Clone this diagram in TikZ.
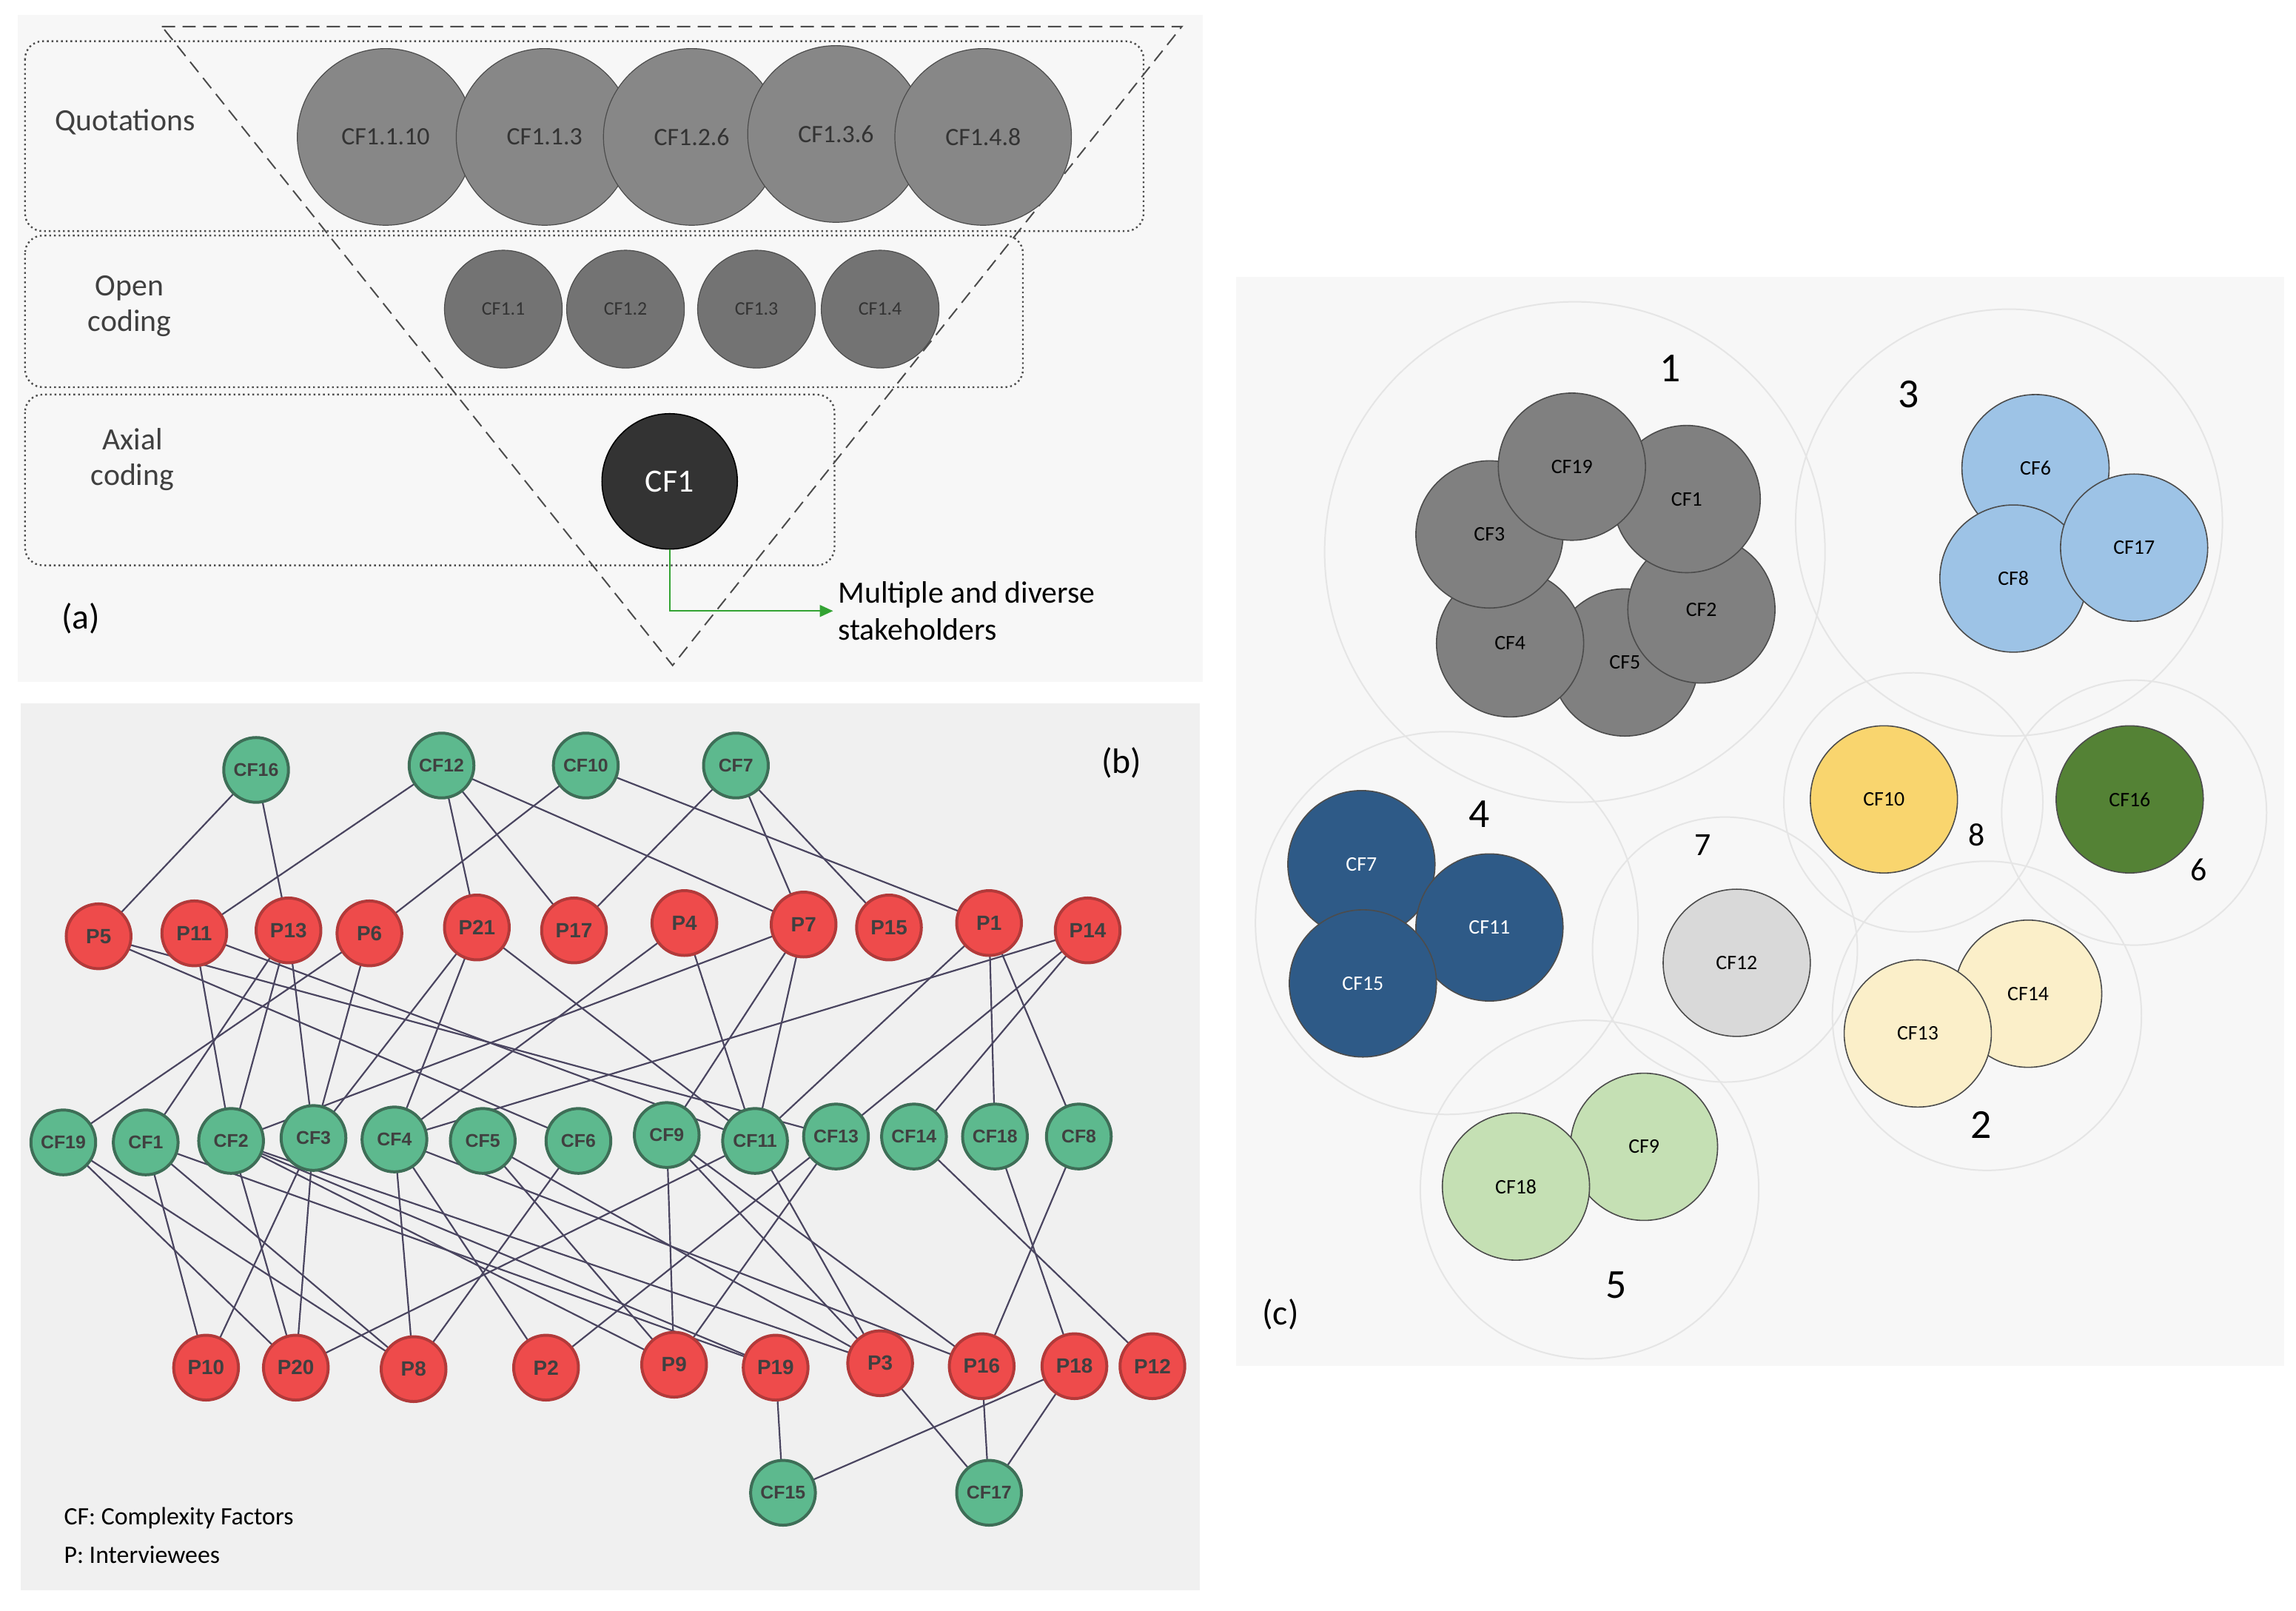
\documentclass[tikz,border=0pt]{standalone}
\usepackage{fontspec}
\setmainfont{Carlito}
\newfontfamily\arialf{Liberation Sans}
\usetikzlibrary{arrows.meta}
\definecolor{gnode}{HTML}{5DB98E}
\definecolor{gedge}{HTML}{3E6E57}
\definecolor{rnode}{HTML}{EE4B4B}
\definecolor{redge}{HTML}{B23A3A}
\definecolor{ln}{HTML}{4A4560}
\begin{document}
\begin{tikzpicture}[x=1pt,y=-1pt,
 bn/.style={circle,minimum size=44pt,inner sep=0pt,line width=2pt,font=\arialf\bfseries\fontsize{14}{14}\selectfont,text=black!75},
 g/.style={bn,fill=gnode,draw=gedge},
 r/.style={bn,fill=rnode,draw=redge},
 e/.style={ln,line width=1.1pt},
 qa/.style={circle,draw=black!70,line width=0.6pt,fill=black!47,minimum size=120pt,inner sep=0pt,font=\fontsize{17}{17}\selectfont,text=black!80},
 oa/.style={circle,draw=black!70,line width=0.6pt,fill=black!55,minimum size=80pt,inner sep=0pt,font=\fontsize{13}{13}\selectfont,text=black!80},
 row/.style={draw=black!70,dash pattern=on 1.2pt off 2pt,line width=1.2pt,rounded corners=12pt},
 rl/.style={font=\fontsize{21}{24}\selectfont,text=black!75,align=center},
 big/.style={draw=black!10,line width=1pt},
 cc/.style={circle,draw=black!70,line width=0.8pt,minimum size=100pt,inner sep=0pt,font=\fontsize{14}{14}\selectfont},
 num/.style={font=\fontsize{28}{28}\selectfont}]
\useasboundingbox (0,0) rectangle (1560,1094);
\fill[white] (0,0) rectangle (1560,1094);
% ---------- panel a
\fill[black!3] (12,10) rectangle (817,463);
\draw[row] (17,28) rectangle (777,157);
\draw[row] (17,160) rectangle (695,263);
\draw[row] (17,268) rectangle (567,384);
\draw[dash pattern=on 9pt off 5pt,black!70,line width=1pt] (110,18) -- (803,18) -- (457,452) -- cycle;
\node[rl] (tq) at (85,83) {Quotations};
\node[rl] (to) at (88,208) {Open\\coding};
\node[rl] (tx) at (90,312) {Axial\\coding};
\node[qa] (q1) at (262,93) {CF1.1.10};
\node[qa] (q2) at (370,93) {CF1.1.3};
\node[qa] (q3) at (470,93) {CF1.2.6};
\node[qa] (q4) at (568,91) {CF1.3.6};
\node[qa] (q5) at (668,93) {CF1.4.8};
\node[oa] (o1) at (342,210) {CF1.1};
\node[oa] (o2) at (425,210) {CF1.2};
\node[oa] (o3) at (514,210) {CF1.3};
\node[oa] (o4) at (598,210) {CF1.4};
\node[circle,draw=black,line width=0.8pt,fill=black!80,minimum size=92pt,inner sep=0pt,text=white,font=\fontsize{22}{22}\selectfont] (cf1a) at (455,327) {CF1};
\node[font=\fontsize{21}{25}\selectfont,align=left,anchor=west] (ms) at (566,415) {Multiple and diverse\\stakeholders};
\draw[-{Triangle[length=9pt,width=8pt]},green!55!black!80,line width=1pt] (cf1a.south) |- (ms.west);
\node[font=\fontsize{24}{24}\selectfont] (la) at (55,420) {(a)};
% ---------- panel b
\fill[black!6] (14,478) rectangle (815,1080);
\foreach \n/\x/\y in {CF16/174/523,CF12/300/520,CF10/398/520,CF7/500/520,
 CF19/43/776,CF1/99/776,CF2/157/775,CF3/213/773,CF4/268/774,CF5/328/775,CF6/393/775,CF9/453/771,CF11/513/775,CF13/568/772,CF14/621/772,CF18/676/772,CF8/733/772,CF15/532/1014,CF17/672/1014}
 \coordinate (b\n) at (\x,\y);
\foreach \n/\x/\y in {P5/67/636,P11/132/634,P13/196/632,P6/251/634,P21/324/630,P17/390/632,P4/465/627,P7/546/628,P15/604/630,P1/672/627,P14/739/632,
 P10/140/929,P20/201/929,P8/281/930,P2/371/929,P9/458/927,P19/527/929,P3/598/926,P16/667/928,P18/730/928,P12/783/928}
 \coordinate (b\n) at (\x,\y);
\foreach \a/\b in {CF16/P5,CF16/P13,CF12/P11,CF12/P21,CF12/P17,CF12/P7,CF10/P6,CF10/P1,CF7/P17,CF7/P7,CF7/P15,
 P5/CF6,P5/CF13,P11/CF2,P11/CF11,P13/CF1,P13/CF2,P13/CF3,P6/CF19,P6/CF3,P21/CF3,P21/CF4,P21/CF11,P4/CF4,P4/CF11,
 P7/CF2,P7/CF9,P7/CF11,P1/CF11,P1/CF18,P1/CF8,P14/CF4,P14/CF13,P14/CF14,
 CF19/P20,CF19/P8,CF1/P10,CF1/P19,CF1/P8,CF2/P20,CF2/P3,CF2/P19,CF2/P9,CF3/P20,CF3/P10,CF4/P8,CF4/P2,CF4/P16,
 CF5/P9,CF5/P3,CF6/P8,CF9/P9,CF9/P3,CF9/P16,CF11/P20,CF11/P3,CF13/P9,CF13/P2,CF14/P12,CF18/P18,CF8/P16,
 P19/CF15,P18/CF15,P3/CF17,P16/CF17,P18/CF17}
 \draw[e] (b\a) -- (b\b);
\foreach \n in {CF16,CF12,CF10,CF7,CF19,CF1,CF2,CF3,CF4,CF5,CF6,CF9,CF11,CF13,CF14,CF18,CF8,CF15,CF17}
 \node[g,font=\arialf\bfseries\fontsize{12.5}{12.5}\selectfont] (n\n) at (b\n) {\n};
\foreach \n in {P5,P11,P13,P6,P21,P17,P4,P7,P15,P1,P14,P10,P20,P8,P2,P9,P19,P3,P16,P18,P12}
 \node[r] (n\n) at (b\n) {\n};
\node[font=\fontsize{24}{24}\selectfont] (lb) at (762,518) {(b)};
\node[anchor=west,font=\fontsize{17}{17}\selectfont] (lg1) at (40,1031) {CF: Complexity Factors};
\node[anchor=west,font=\fontsize{17}{17}\selectfont] (lg2) at (40,1056) {P: Interviewees};
% ---------- panel c
\fill[black!3] (840,188) rectangle (1552,928);
\draw[big] (1070,375) circle (170);
\draw[big] (1365,355) circle (145);
\draw[big] (983,627) circle (130);
\draw[big] (1172,645) circle (90);
\draw[big] (1300,545) circle (88);
\draw[big] (1450,552) circle (90);
\draw[big] (1350,690) circle (105);
\draw[big] (1080,808) circle (115);
\foreach \n/\x/\y in {CF5/1104/450,CF4/1026/437,CF2/1156/414,CF3/1012/363,CF1/1146/339,CF19/1068/317}
 \node[cc,fill=black!50] (c\n) at (\x,\y) {\n};
\definecolor{lb}{HTML}{9DC3E6}
\node[cc,fill=lb] (cCF6) at (1383,318) {CF6};
\node[cc,fill=lb] (cCF8) at (1368,393) {CF8};
\node[cc,fill=lb] (cCF17) at (1450,372) {CF17};
\node[cc,fill={rgb,255:red,249;green,213;blue,110}] (cCF10) at (1280,543) {CF10};
\node[cc,fill={rgb,255:red,84;green,130;blue,53}] (cCF16) at (1447,543) {CF16};
\definecolor{db}{HTML}{2E5A87}
\node[cc,fill=db,text=white] (cCF7) at (925,587) {CF7};
\node[cc,fill=db,text=white] (cCF11) at (1012,630) {CF11};
\node[cc,fill=db,text=white] (cCF15) at (926,668) {CF15};
\node[cc,fill=black!15] (cCF12) at (1180,654) {CF12};
\definecolor{cr}{HTML}{FBEFC9}
\node[cc,fill=cr] (cCF14) at (1378,675) {CF14};
\node[cc,fill=cr] (cCF13) at (1303,702) {CF13};
\definecolor{lg}{HTML}{C5E0B4}
\node[cc,fill=lg] (cCF9) at (1117,779) {CF9};
\node[cc,fill=lg] (cCF18) at (1030,806) {CF18};
\node[num] (k1) at (1135,250) {1};
\node[num] (k3) at (1297,268) {3};
\node[num] (k4) at (1005,553) {4};
\node[num,font=\fontsize{22}{22}\selectfont] (k7) at (1157,574) {7};
\node[num,font=\fontsize{22}{22}\selectfont] (k8) at (1343,567) {8};
\node[num,font=\fontsize{22}{22}\selectfont] (k6) at (1494,591) {6};
\node[num] (k2) at (1346,764) {2};
\node[num] (k5) at (1098,873) {5};
\node[font=\fontsize{24}{24}\selectfont] (lc) at (870,893) {(c)};
\end{tikzpicture}
\end{document}
